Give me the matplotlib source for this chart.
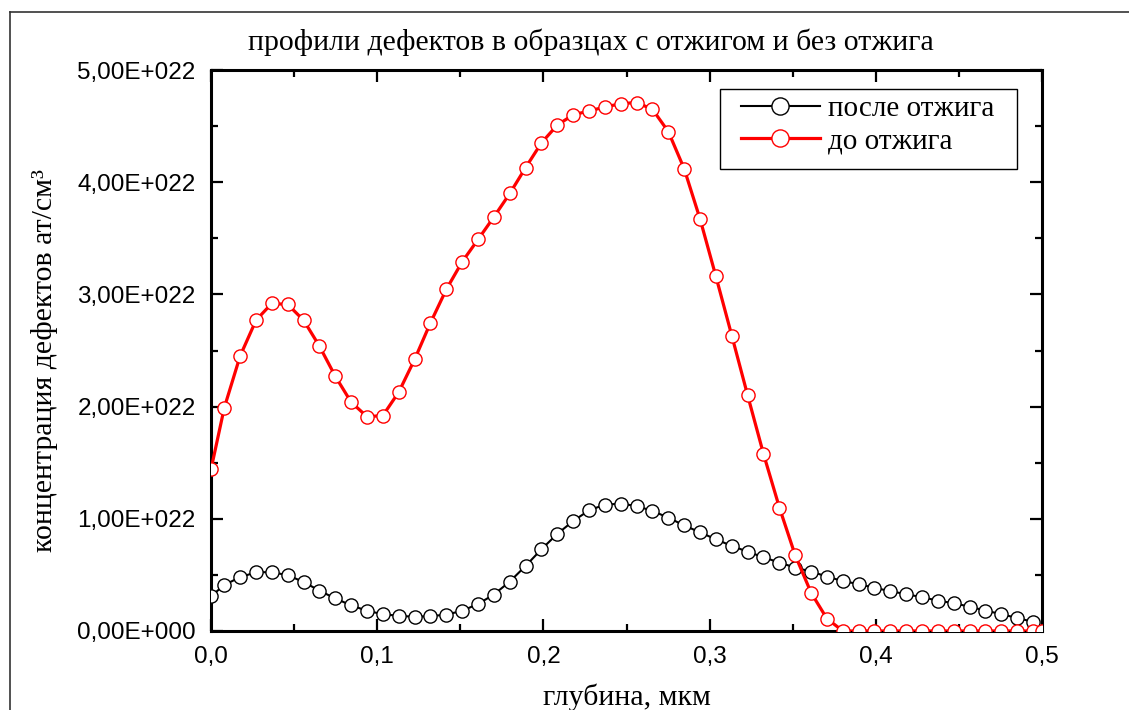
import numpy as np
import matplotlib
matplotlib.use("Agg")
import matplotlib.pyplot as plt
from matplotlib.ticker import MultipleLocator, FuncFormatter
from matplotlib.lines import Line2D
from matplotlib.patches import Rectangle

# depth, um
depth = [0.0, 0.008, 0.0175, 0.0271, 0.0366, 0.0462, 0.0557, 0.0652, 0.0748, 0.0843,
         0.0939, 0.1034, 0.113, 0.1225, 0.132, 0.1416, 0.1511, 0.1607, 0.1702, 0.1798,
         0.1893, 0.1988, 0.2084, 0.2179, 0.2275, 0.237, 0.2466, 0.2561, 0.2656, 0.2752,
         0.2847, 0.2943, 0.3038, 0.3134, 0.3229, 0.3324, 0.342, 0.3515, 0.3611, 0.3706,
         0.3802, 0.3897, 0.3992, 0.4088, 0.4183, 0.4279, 0.4374, 0.447, 0.4565, 0.466,
         0.4756, 0.4851, 0.4947, 0.5]

# after annealing (x1e22)
after = [0.31, 0.41, 0.48, 0.523, 0.525, 0.497, 0.437, 0.36, 0.29, 0.229,
         0.18, 0.15, 0.135, 0.127, 0.132, 0.146, 0.18, 0.241, 0.325, 0.441,
         0.58, 0.728, 0.866, 0.98, 1.076, 1.126, 1.135, 1.114, 1.07, 1.01,
         0.941, 0.879, 0.817, 0.758, 0.707, 0.657, 0.61, 0.565, 0.53, 0.485,
         0.445, 0.418, 0.385, 0.355, 0.328, 0.301, 0.271, 0.247, 0.217, 0.181,
         0.151, 0.115, 0.082]

# before annealing (x1e22)
before = [1.44, 1.99, 2.45, 2.77, 2.92, 2.91, 2.77, 2.54, 2.27, 2.04,
          1.91, 1.92, 2.13, 2.42, 2.745, 3.045, 3.29, 3.49, 3.69, 3.90,
          4.13, 4.35, 4.51, 4.60, 4.635, 4.67, 4.70, 4.71, 4.65, 4.45,
          4.12, 3.67, 3.16, 2.63, 2.10, 1.58, 1.10, 0.675, 0.34, 0.11,
          0, 0, 0, 0, 0, 0, 0, 0, 0, 0,
          0, 0, 0, 0]

after = np.array(after) * 1e22
before = np.array(before) * 1e22

serif = "Liberation Serif"
sans = "Liberation Sans"

fig = plt.figure(figsize=(11.29, 7.10), dpi=100)
ax = fig.add_axes([211 / 1129, 1 - 631 / 710, (1042 - 211) / 1129, (631 - 70) / 710])

ax.plot(depth[:len(after)], after, color="black", linewidth=1.5, marker="o",
        markersize=9.5, markerfacecolor="white", markeredgecolor="black",
        markeredgewidth=1.0, label="после отжига", zorder=3)
ax.plot(depth, before, color="red", linewidth=2.3, marker="o",
        markersize=9.5, markerfacecolor="white", markeredgecolor="red",
        markeredgewidth=1.0, label="до отжига", zorder=4)

ax.set_xlim(0, 0.5)
ax.set_ylim(0, 5e22)
ax.xaxis.set_major_locator(MultipleLocator(0.1))
ax.xaxis.set_minor_locator(MultipleLocator(0.05))
ax.yaxis.set_major_locator(MultipleLocator(1e22))
ax.yaxis.set_minor_locator(MultipleLocator(0.5e22))


def yfmt(v, pos):
    if v <= 0:
        return "0,00E+000"
    e = int(np.floor(np.log10(v) + 1e-9))
    m = v / 10 ** e
    return ("%.2fE+%03d" % (m, e)).replace(".", ",")


ax.yaxis.set_major_formatter(FuncFormatter(yfmt))
ax.xaxis.set_major_formatter(FuncFormatter(lambda v, p: ("%.1f" % abs(v)).replace(".", ",")))

ax.tick_params(which="both", direction="in", top=True, right=True, width=1.6)
ax.tick_params(which="major", length=8.5, pad=11, labelsize=17.5)
ax.tick_params(which="minor", length=5)
for lab in ax.get_xticklabels() + ax.get_yticklabels():
    lab.set_fontfamily(sans)
for s in ax.spines.values():
    s.set_linewidth(2.2)

fig.text(591 / 1129, 1 - 42 / 710,
         "профили дефектов в образцах с отжигом и без отжига",
         ha="center", va="center", fontsize=21.5, family=serif)
fig.text(0.5 * (211 + 1042) / 1129, 1 - 697 / 710, "глубина, мкм",
         ha="center", va="center", fontsize=21.5, family=serif)
fig.text(45 / 1129, 1 - 360 / 710, "концентрация дефектов ат/см³",
         ha="center", va="center", rotation=90, fontsize=21.5, family=serif)

# legend without its own frame, box drawn separately behind it
box = Rectangle((720 / 1129, 1 - 169 / 710), (1017 - 720) / 1129, 80 / 710,
                transform=fig.transFigure, facecolor="white", edgecolor="black",
                linewidth=1.0, zorder=5, clip_on=False)
ax.add_artist(box)
leg = ax.legend(loc="upper left", bbox_to_anchor=(741 / 1129, 1 - 96 / 710),
                bbox_transform=fig.transFigure, prop={"family": serif, "size": 21},
                frameon=False, handlelength=2.7, markerscale=1.3, borderpad=0,
                labelspacing=0.2, handletextpad=0.27, borderaxespad=0)
leg.set_zorder(6)

# outer frame
fig.add_artist(Line2D([10 / 1129, 10 / 1129], [0, 1 - 12 / 710], color="#333333", linewidth=1.2))
fig.add_artist(Line2D([10 / 1129, 1], [1 - 12 / 710, 1 - 12 / 710], color="#333333", linewidth=1.2))

fig.savefig("out.png", dpi=100)
